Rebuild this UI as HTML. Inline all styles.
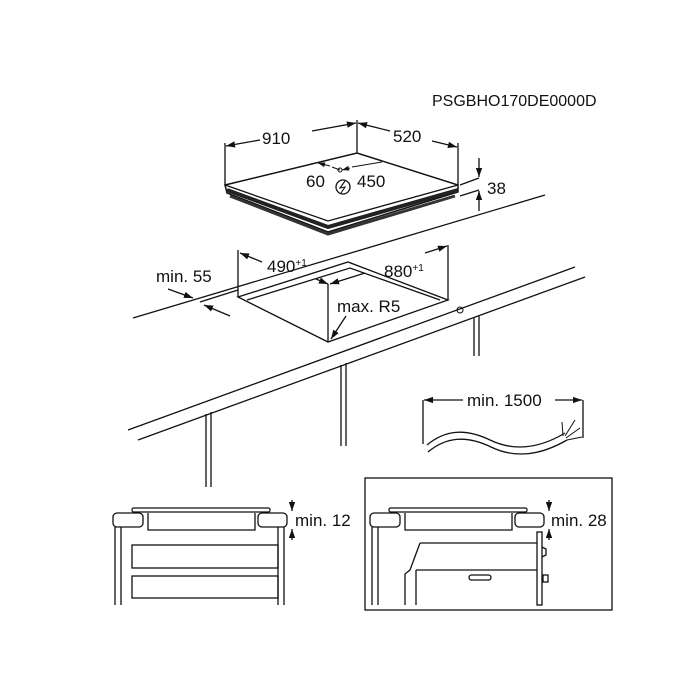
<!DOCTYPE html>
<html><head><style>
html,body{margin:0;padding:0;background:#fff}
svg{display:block}
text{font-family:"Liberation Sans",Arial,sans-serif;fill:#111}
</style></head><body>
<svg width="700" height="700" viewBox="0 0 700 700" xmlns="http://www.w3.org/2000/svg">
<defs>
<marker id="a" viewBox="0 0 10 10" refX="10" refY="5" markerWidth="7" markerHeight="7" orient="auto-start-reverse"><path d="M0,1.5 L10,5 L0,8.5 Z" fill="#111"/></marker>
</defs>
<g stroke="#111" stroke-width="1.3" fill="none">
<path d="M225,185 L357,153 L458,185 L458,192 L328,232 L227,193 Z" fill="#fff" stroke-width="1.5"/>
<path d="M225,185 L328,221 L458,185" stroke-width="1.3"/>
<path d="M227,190 L328,227 L458,190" stroke-width="4" stroke="#222"/>
<path d="M230,196 L328,234 L455,196" stroke-width="3" stroke="#333"/>
<line x1="225" y1="185" x2="225" y2="143"/>
<line x1="357" y1="153" x2="357" y2="120"/>
<line x1="458" y1="185" x2="458" y2="143"/>
<line x1="260" y1="140" x2="226" y2="146" marker-end="url(#a)"/>
<line x1="312" y1="131" x2="356" y2="123" marker-end="url(#a)"/>
<line x1="390" y1="131" x2="358" y2="123" marker-end="url(#a)"/>
<line x1="432" y1="141" x2="457" y2="147" marker-end="url(#a)"/>
<line x1="330" y1="166" x2="318" y2="163" marker-end="url(#a)" stroke-width="1"/>
<line x1="332" y1="167" x2="340" y2="170" stroke-width="1"/>
<circle cx="340" cy="170" r="2" stroke-width="1"/>
<line x1="350" y1="168" x2="342" y2="170" marker-end="url(#a)" stroke-width="1"/>
<line x1="352" y1="167" x2="382" y2="162" stroke-width="1"/>
<circle cx="343" cy="187" r="7"/>
<path d="M345,181 L340,188 L345,187 L341,193" stroke-width="1.1"/>
<line x1="460" y1="185" x2="479" y2="178"/>
<line x1="460" y1="196" x2="479" y2="190"/>
<line x1="479" y1="158" x2="479" y2="177" marker-end="url(#a)"/>
<line x1="479" y1="211" x2="479" y2="191" marker-end="url(#a)"/>
<line x1="133" y1="318" x2="545" y2="195"/>
<line x1="128" y1="430" x2="575" y2="267"/>
<line x1="138" y1="440" x2="585" y2="277"/>
<path d="M238,297 L348,262 L448,300 L328,342 Z"/>
<path d="M247,300 L350,268 L440,300"/>
<line x1="238" y1="297" x2="238" y2="250"/>
<line x1="448" y1="300" x2="448" y2="245"/>
<line x1="328" y1="342" x2="328" y2="284"/>
<line x1="200" y1="302" x2="238" y2="290"/>
<line x1="262" y1="262" x2="240" y2="253" marker-end="url(#a)"/>
<line x1="316" y1="279" x2="328" y2="284" marker-end="url(#a)"/>
<line x1="365" y1="273" x2="330" y2="284" marker-end="url(#a)"/>
<line x1="425" y1="253" x2="447" y2="246" marker-end="url(#a)"/>
<line x1="168" y1="289" x2="193" y2="298" marker-end="url(#a)"/>
<line x1="230" y1="316" x2="204" y2="305" marker-end="url(#a)"/>
<line x1="346" y1="316" x2="331" y2="339" marker-end="url(#a)"/>
<circle cx="460" cy="310" r="3" stroke-width="1"/>
<line x1="206" y1="414" x2="206" y2="487"/><line x1="211" y1="412" x2="211" y2="487"/>
<line x1="341" y1="365" x2="341" y2="446"/><line x1="346" y1="363" x2="346" y2="446"/>
<line x1="474" y1="318" x2="474" y2="356"/><line x1="479" y1="316" x2="479" y2="356"/>
<line x1="423" y1="400" x2="423" y2="444"/>
<line x1="583" y1="400" x2="583" y2="438"/>
<line x1="463" y1="400" x2="424" y2="400" marker-end="url(#a)"/>
<line x1="555" y1="400" x2="582" y2="400" marker-end="url(#a)"/>
<path d="M427,445 C445,430 465,428 490,440 C515,452 540,448 565,433"/>
<path d="M428,452 C446,437 466,435 491,447 C516,459 541,455 567,440"/>
<path d="M563,436 L562,422 M565,436 L575,420 M566,438 L580,428 M567,440 L582,437" stroke-width="1"/>
<rect x="132" y="508" width="138" height="4" rx="1.5" stroke-width="1.2"/>
<rect x="113" y="513" width="30" height="14" rx="4"/>
<rect x="258" y="513" width="29" height="14" rx="4"/>
<path d="M148,513 L148,530 L255,530 L255,513"/>
<line x1="115" y1="527" x2="115" y2="605"/><line x1="121" y1="527" x2="121" y2="605"/>
<line x1="278" y1="527" x2="278" y2="605"/><line x1="284" y1="527" x2="284" y2="605"/>
<rect x="132" y="545" width="146" height="23"/>
<rect x="132" y="576" width="146" height="22"/>
<line x1="292" y1="500" x2="292" y2="511" marker-end="url(#a)"/>
<line x1="292" y1="540" x2="292" y2="529" marker-end="url(#a)"/>
<rect x="365" y="478" width="247" height="132"/>
<rect x="389" y="508" width="138" height="4" rx="1.5" stroke-width="1.2"/>
<rect x="370" y="513" width="30" height="14" rx="4"/>
<rect x="515" y="513" width="29" height="14" rx="4"/>
<path d="M405,513 L405,530 L512,530 L512,513"/>
<line x1="372" y1="527" x2="372" y2="605"/><line x1="378" y1="527" x2="378" y2="605"/>
<path d="M420,543 L537,543 M420,543 L410,570 L405,574 L405,605 M416,570 L537,570 M416,570 L416,605"/>
<rect x="537" y="532" width="5" height="73"/>
<rect x="469" y="575" width="22" height="5" rx="2.5"/>
<path d="M542,547 L546,549 L546,555 L542,557"/>
<rect x="543" y="575" width="5" height="7"/>
<line x1="549" y1="500" x2="549" y2="511" marker-end="url(#a)"/>
<line x1="549" y1="540" x2="549" y2="529" marker-end="url(#a)"/>
</g>
<g font-size="17">
<text x="432" y="106" font-size="16">PSGBHO170DE0000D</text>
<text x="262" y="144">910</text>
<text x="393" y="142">520</text>
<text x="306" y="187">60</text>
<text x="357" y="187">450</text>
<text x="487" y="194">38</text>
<text x="267" y="272">490<tspan font-size="10" dy="-6">+1</tspan></text>
<text x="384" y="277">880<tspan font-size="10" dy="-6">+1</tspan></text>
<text x="156" y="282">min. 55</text>
<text x="337" y="312">max. R5</text>
<text x="467" y="406">min. 1500</text>
<text x="295" y="526">min. 12</text>
<text x="551" y="526">min. 28</text>
</g>
</svg>
</body></html>
